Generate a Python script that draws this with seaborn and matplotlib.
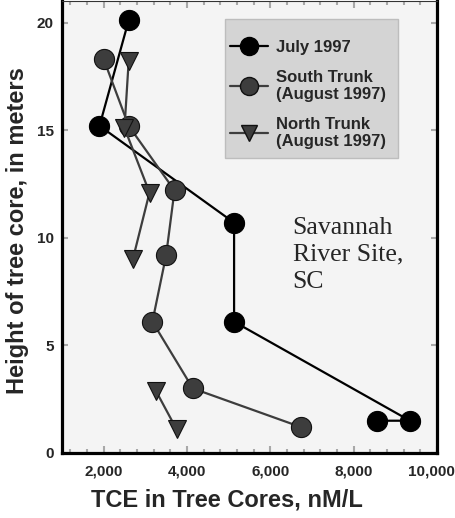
import matplotlib
matplotlib.use("Agg")
import matplotlib.pyplot as plt
import matplotlib.transforms as mtransforms
from matplotlib.lines import Line2D
from matplotlib.patches import Rectangle
from matplotlib.ticker import MultipleLocator, FuncFormatter
import pandas as pd
import seaborn as sns

# TCE concentration (nM/L) versus core height (m)
july_tce = [2600, 1900, 5130, 5130, 9350, 8570]
july_height = [20.1, 15.2, 10.7, 6.1, 1.5, 1.5]

south_tce = [2000, 2600, 3700, 3500, 3170, 4140, 6740]
south_height = [18.3, 15.2, 12.2, 9.2, 6.1, 3.0, 1.2]

north_tce = [2600, 2500, 3100, 2700, 3250, 3750]
north_height = [18.2, 15.1, 12.1, 9.0, 2.9, 1.1]
north_segment = [1, 1, 1, 1, 2, 2]

series_labels = ["July 1997", "South Trunk\n(August 1997)", "North Trunk\n(August 1997)"]
x_ticks = [2000, 4000, 6000, 8000, 10000]
y_ticks = [0, 5, 10, 15, 20]

july = pd.DataFrame({"tce": july_tce, "height": july_height, "seg": 1})
south = pd.DataFrame({"tce": south_tce, "height": south_height, "seg": 1})
north = pd.DataFrame({"tce": north_tce, "height": north_height, "seg": north_segment})

sns.set_style("ticks")
plt.rcParams["font.family"] = ["Liberation Sans", "DejaVu Sans"]
plt.rcParams["font.weight"] = "bold"

fig = plt.figure(figsize=(4.55, 5.18), dpi=100)
ax = fig.add_axes([62 / 455, 65 / 518, 375 / 455, 452 / 518])
ax.set_facecolor("#f4f4f4")

black = "#000000"
dark = "#3d3d3d"

sns.lineplot(data=july, x="tce", y="height", units="seg", estimator=None, sort=False,
             color=black, lw=1.6, marker="o", markersize=14.5,
             markerfacecolor=black, markeredgecolor=black, markeredgewidth=0.8,
             legend=False, ax=ax, zorder=3)
sns.lineplot(data=south, x="tce", y="height", units="seg", estimator=None, sort=False,
             color=dark, lw=1.6, marker="o", markersize=14.5,
             markerfacecolor=dark, markeredgecolor="#111111", markeredgewidth=0.8,
             legend=False, ax=ax, zorder=4)
sns.lineplot(data=north, x="tce", y="height", units="seg", estimator=None, sort=False,
             color=dark, lw=1.6, marker="v", markersize=13.5,
             markerfacecolor=dark, markeredgecolor="#111111", markeredgewidth=0.8,
             legend=False, ax=ax, zorder=5)

ax.set_xlim(1000, 10000)
ax.set_ylim(0, 21)
ax.set_xticks(x_ticks)
ax.set_yticks(y_ticks)
ax.xaxis.set_minor_locator(MultipleLocator(400))
ax.xaxis.set_major_formatter(FuncFormatter(lambda v, p: f"{v:,.0f}"))

ax.tick_params(axis="both", which="both", direction="in", color="#a8a8a8",
               top=True, right=True, labelsize=11, width=1.5)
ax.tick_params(axis="x", which="major", length=5, pad=8)
ax.tick_params(axis="x", which="minor", length=3)
ax.tick_params(axis="y", which="major", length=4, pad=6)
for lab in ax.get_xticklabels() + ax.get_yticklabels():
    lab.set_fontweight("bold")

for side in ["left", "bottom", "right"]:
    ax.spines[side].set_linewidth(2.3)
    ax.spines[side].set_color("black")
ax.spines["top"].set_linewidth(0.8)
ax.spines["top"].set_color("#333333")

ax.set_xlabel("TCE in Tree Cores, nM/L", fontsize=17, fontweight="bold")
ax.set_ylabel("Height of tree core, in meters", fontsize=17, fontweight="bold")
ax.xaxis.set_label_coords(0.44, -0.078)
ax.yaxis.set_label_coords(-0.088, 0.492)

ax.text(0.615, 0.523, "Savannah\nRiver Site,\nSC", transform=ax.transAxes,
        ha="left", va="top", fontsize=18.5, fontweight="normal",
        family=["Liberation Serif", "DejaVu Serif"], linespacing=1.3)

# Legend panel
ax.add_patch(Rectangle((0.4347, 0.6534), 0.4613, 0.3068, transform=ax.transAxes,
                       facecolor="#d4d4d4", edgecolor="#bdbdbd", lw=1.0, zorder=6))
handles = [
    Line2D([], [], color=black, lw=1.6, marker="o", markersize=13,
           markerfacecolor=black, markeredgecolor=black),
    Line2D([], [], color=dark, lw=1.6, marker="o", markersize=13,
           markerfacecolor=dark, markeredgecolor="#111111"),
    Line2D([], [], color=dark, lw=1.6, marker="v", markersize=12,
           markerfacecolor=dark, markeredgecolor="#111111"),
]
leg = ax.legend(handles, series_labels, loc="upper left", bbox_to_anchor=(0.448, 0.913),
                frameon=False, borderpad=0, borderaxespad=0, handlelength=2.3,
                handletextpad=0.45, labelspacing=0.88,
                prop={"size": 12, "weight": "bold"})
leg.set_zorder(7)

fig.canvas.draw()
last = ax.get_xticklabels()[-1]
last.set_transform(last.get_transform() +
                   mtransforms.ScaledTranslation(-6 / 100, 0, fig.dpi_scale_trans))

fig.savefig("out.png", dpi=100)
